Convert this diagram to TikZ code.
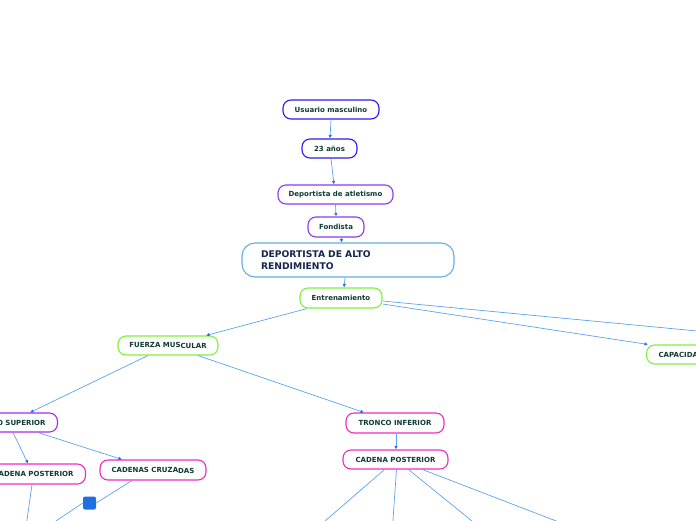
\documentclass[tikz,border=0pt]{standalone}
\usepackage{fontspec}
\setmainfont{DejaVu Sans}
\usetikzlibrary{arrows.meta}
\definecolor{txt}{HTML}{0E3B30}
\definecolor{navy}{HTML}{17254F}
\definecolor{cblue}{HTML}{2B1BF0}
\definecolor{cviol}{HTML}{8B3BF2}
\definecolor{cpurp}{HTML}{A62BEE}
\definecolor{cmag}{HTML}{F02BC4}
\definecolor{cgreen}{HTML}{80F040}
\definecolor{csky}{HTML}{62AEE4}
\definecolor{cline}{HTML}{5DA3EC}
\definecolor{carrow}{HTML}{1F6FE0}
\begin{document}
\begin{tikzpicture}[x=1pt,y=-1pt,
  box/.style={draw, line width=1.1pt, rounded corners=8pt, fill=white, text=txt,
    font=\bfseries\fontsize{7}{8}\selectfont, inner sep=0pt, minimum height=19pt},
  conn/.style={draw=cline, line width=0.7pt},
  arr/.style={conn, -{Latex[length=3.5pt,width=3.5pt,color=carrow]}}]
\useasboundingbox (0,0) rectangle (696,520);
\clip (0,0) rectangle (696,520);
% nodes
\node[box, draw=cblue, minimum width=96pt] (um) at (331,109.5) {Usuario masculino};
\node[box, draw=cblue, minimum width=55pt] (age) at (329.5,148.5) {23 años};
\node[box, draw=cviol, minimum width=115pt] (dep) at (335.5,194.5) {Deportista de atletismo};
\node[box, draw=cviol, minimum width=56pt, minimum height=20pt] (fond) at (336,227) {Fondista};
\node[box, draw=csky, minimum width=212pt, minimum height=34pt, rounded corners=13pt,
  text=navy, font=\bfseries\fontsize{9.2}{11.5}\selectfont, align=left, text width=174pt, inner xsep=19pt] (dar) at (348,260)
  {DEPORTISTA DE ALTO\\RENDIMIENTO};
\node[box, draw=cgreen, minimum width=82pt, minimum height=20pt] (ent) at (341,298) {Entrenamiento};
\node[box, draw=cgreen, minimum width=100pt] (fm) at (168,345.5) {FUERZA MUS\raisebox{-0.9pt}{CULAR}};
\node[box, draw=cgreen, anchor=west, inner xsep=12pt] (cap) at (646,354.5) {CAPACIDADES};
\node[box, draw=cpurp, anchor=east, inner xsep=12pt] (ts) at (58,422.5) {TRONCO SUPERIOR};
\node[box, draw=cmag, anchor=east, inner xsep=12pt, minimum height=20pt] (cpl) at (86,474) {CADENA POSTERIOR};
\node[box, draw=cmag, minimum width=106pt, minimum height=20pt] (cc) at (153,470) {CADENAS CRUZA\raisebox{-0.9pt}{DAS}};
\node[draw=none, fill=carrow, rounded corners=2pt, minimum size=13pt, inner sep=0pt] (sq) at (89.5,503) {};
\node[box, draw=cmag, minimum width=98pt, minimum height=20pt] (ti) at (395,423) {TRONCO INFERIOR};
\node[box, draw=cmag, minimum width=105pt] (cp) at (395.5,459.5) {CADENA POSTERIOR};
% off-page ends
\coordinate (offr) at (760,337);
\coordinate (offa) at (310,534);
\coordinate (offb) at (392,534);
\coordinate (offc) at (488,534);
\coordinate (offd) at (590,534);
\coordinate (offe) at (25,534);
\coordinate (offs) at (50,525);
% connectors
\draw[arr] (um.south) -- ([xshift=0.5pt]age.north);
\draw[arr] ([xshift=1.5pt]age.south) -- ([xshift=-1.5pt]dep.north);
\draw[arr] (dep.south) -- (fond.north);
\draw[arr] ([xshift=5pt]fond.south) -- ([xshift=-6pt]dar.north);
\draw[arr] ([xshift=-3pt]dar.south) -- ([xshift=3pt]ent.north);
\draw[arr] ([xshift=-34pt]ent.south) -- ([xshift=38pt]fm.north);
\draw[arr] ([yshift=-6pt]ent.east) -- ([xshift=2pt]cap.north west);
\draw[conn] ([yshift=-3pt]ent.east) -- (offr);
\draw[arr] ([xshift=-20pt]fm.south) -- ([xshift=-28pt]ts.north east);
\draw[arr] ([xshift=30pt]fm.south) -- ([xshift=-31pt]ti.north);
\draw[arr] ([xshift=-45pt]ts.south east) -- ([xshift=-58pt]cpl.north east);
\draw[arr] ([xshift=-20pt]ts.south east) -- ([xshift=-31pt]cc.north);
\draw[arr] ([xshift=1pt]ti.south) -- ([xshift=0.5pt]cp.north);
\draw[conn] ([xshift=-21pt]cc.south) -- (sq.east);
\draw[conn] (sq.west) -- (offs);
\draw[conn] ([xshift=-54pt]cpl.south east) -- (offe);
\draw[conn] ([xshift=-11pt]cp.south) -- (offa);
\draw[conn] ([xshift=1pt]cp.south) -- (offb);
\draw[conn] ([xshift=13pt]cp.south) -- (offc);
\draw[conn] ([xshift=27pt]cp.south) -- (offd);
\end{tikzpicture}
\end{document}
